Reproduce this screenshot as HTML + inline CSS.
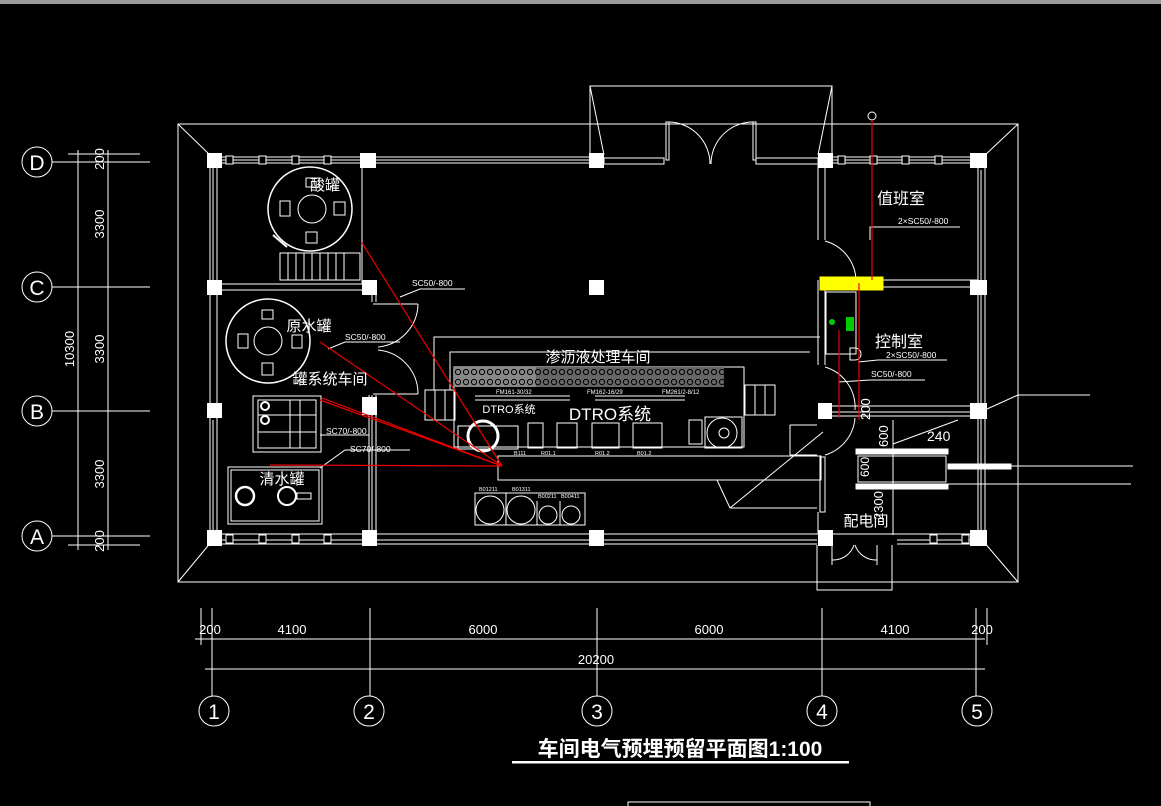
<!DOCTYPE html>
<html><head><meta charset="utf-8"><style>
html,body{margin:0;padding:0;background:#000;}
svg{display:block;}
text{font-family:"Liberation Sans","Noto Sans CJK SC",sans-serif;fill:#fff;}
</style></head><body>
<svg width="1161" height="806" viewBox="0 0 1161 806" xmlns="http://www.w3.org/2000/svg">
<defs>
<pattern id="flt" x="454" y="367" width="8" height="10" patternUnits="userSpaceOnUse">
<circle cx="4" cy="5" r="2.6" fill="none" stroke="#000" stroke-width="1"/>
</pattern>
</defs>
<rect x="0" y="0" width="1161" height="4" fill="#9a9a9a"/>
<g stroke="#fff" fill="none" stroke-width="1">
<rect x="178" y="124" width="840" height="458"/>
<line x1="178" y1="124" x2="212" y2="157"/><line x1="1018" y1="124" x2="983" y2="157"/>
<line x1="178" y1="582" x2="212" y2="541"/><line x1="1018" y1="582" x2="983" y2="541"/>
<polyline points="590,155 590,86 832,86 832,155"/>
<line x1="590" y1="86" x2="604" y2="155"/><line x1="832" y1="86" x2="818" y2="155"/>
<rect x="666" y="122" width="3" height="38"/><rect x="753" y="122" width="3" height="38"/>
<path d="M669,122 A42,42 0 0 1 710,164"/><path d="M753,122 A42,42 0 0 0 711,164"/>
<line x1="217" y1="157" x2="590" y2="157"/><line x1="217" y1="163" x2="590" y2="163"/>
<line x1="217" y1="160" x2="590" y2="160"/>
<rect x="604" y="158" width="60" height="6"/><rect x="756" y="158" width="62" height="6"/>
<line x1="830" y1="157" x2="983" y2="157"/><line x1="830" y1="163" x2="983" y2="163"/><line x1="830" y1="160" x2="983" y2="160"/>
<line x1="217" y1="534" x2="983" y2="534"/><line x1="217" y1="540" x2="817" y2="540"/><line x1="217" y1="544" x2="817" y2="544"/>
<line x1="897" y1="540" x2="983" y2="540"/><line x1="897" y1="544" x2="983" y2="544"/>
<line x1="210" y1="165" x2="210" y2="532"/><line x1="217" y1="165" x2="217" y2="532"/><line x1="213" y1="168" x2="213" y2="280"/><line x1="213" y1="420" x2="213" y2="530"/>
<line x1="978" y1="165" x2="978" y2="532"/><line x1="985" y1="165" x2="985" y2="532"/><line x1="981" y1="170" x2="981" y2="530"/>
<line x1="217" y1="284" x2="368" y2="284"/><line x1="217" y1="290" x2="368" y2="290"/>
<line x1="362" y1="165" x2="362" y2="284"/>
<line x1="372" y1="290" x2="372" y2="302"/><line x1="376" y1="290" x2="376" y2="302"/>
<line x1="372" y1="395" x2="372" y2="532"/><line x1="376" y1="395" x2="376" y2="532"/><line x1="369" y1="395" x2="369" y2="532"/>
<line x1="373" y1="304" x2="418" y2="304"/><path d="M418,304 A44,44 0 0 1 378,347"/><path d="M378,350 A44,44 0 0 1 418,394"/><line x1="373" y1="394" x2="418" y2="394"/>
<rect x="280" y="253" width="80" height="27"/>
<line x1="288" y1="253" x2="288" y2="280"/><line x1="296" y1="253" x2="296" y2="280"/><line x1="304" y1="253" x2="304" y2="280"/><line x1="312" y1="253" x2="312" y2="280"/><line x1="320" y1="253" x2="320" y2="280"/><line x1="328" y1="253" x2="328" y2="280"/><line x1="336" y1="253" x2="336" y2="280"/><line x1="344" y1="253" x2="344" y2="280"/>
<circle cx="310" cy="209" r="42" stroke-width="1.5"/><circle cx="312" cy="209" r="14"/>
<rect x="306" y="178" width="13" height="9"/><rect x="280" y="201" width="10" height="15"/><rect x="334" y="202" width="11" height="13"/><rect x="306" y="232" width="11" height="11"/>
<line x1="273" y1="235" x2="287" y2="247" stroke-width="2"/>
<circle cx="268" cy="341" r="42" stroke-width="1.5"/><circle cx="268" cy="341" r="14"/>
<rect x="262" y="310" width="11" height="9"/><rect x="238" y="334" width="10" height="14"/><rect x="292" y="335" width="10" height="13"/><rect x="262" y="363" width="11" height="12"/>
<rect x="253" y="396" width="68" height="56"/>
<rect x="258" y="400" width="58" height="48"/><line x1="258" y1="415" x2="316" y2="415"/><line x1="258" y1="432" x2="316" y2="432"/><line x1="290" y1="400" x2="290" y2="448"/><line x1="300" y1="400" x2="300" y2="448"/><circle cx="265" cy="406" r="4" stroke-width="2"/><circle cx="265" cy="420" r="4" stroke-width="2"/>
<rect x="228" y="467" width="94" height="57"/><rect x="231" y="470" width="88" height="51"/>
<circle cx="245" cy="496" r="9" stroke-width="2.5"/><circle cx="287" cy="496" r="9" stroke-width="2"/><rect x="297" y="493" width="14" height="6"/>
<polyline points="434,390 434,337 820,337"/>
<polyline points="450,390 450,352 810,352"/>
<rect x="454" y="367" width="290" height="80"/>
<rect x="498" y="456" width="323" height="24"/>
<rect x="425" y="390" width="30" height="30"/><line x1="435" y1="390" x2="435" y2="420"/><line x1="445" y1="390" x2="445" y2="420"/>
<rect x="745" y="385" width="30" height="30"/><line x1="755" y1="385" x2="755" y2="415"/><line x1="765" y1="385" x2="765" y2="415"/>
<rect x="458" y="426" width="60" height="23"/><circle cx="483" cy="436" r="15" stroke-width="3"/>
<rect x="528" y="423" width="15" height="25"/><rect x="557" y="423" width="20" height="25"/>
<rect x="592" y="423" width="27" height="25"/><rect x="633" y="423" width="29" height="25"/>
<rect x="705" y="417" width="37" height="31"/><circle cx="722" cy="433" r="15"/><circle cx="724" cy="433" r="5"/><rect x="689" y="420" width="13" height="24"/>
<line x1="475" y1="396" x2="570" y2="396"/><line x1="475" y1="400" x2="570" y2="400"/>
<line x1="595" y1="396" x2="685" y2="396"/><line x1="595" y1="400" x2="685" y2="400"/>
<rect x="475" y="493" width="110" height="32"/><line x1="506" y1="493" x2="506" y2="525"/><line x1="537" y1="501" x2="537" y2="525"/><line x1="560" y1="501" x2="560" y2="525"/>
<circle cx="490" cy="510" r="14"/><circle cx="521" cy="510" r="14"/><circle cx="548" cy="515" r="9"/><circle cx="571" cy="515" r="9"/>
<line x1="818" y1="165" x2="818" y2="240"/><line x1="825" y1="165" x2="825" y2="240"/>
<path d="M825,241 A42,42 0 0 1 856,280"/>
<line x1="830" y1="280" x2="978" y2="280"/><line x1="830" y1="287" x2="978" y2="287"/>
<line x1="818" y1="280" x2="818" y2="365"/><line x1="825" y1="290" x2="825" y2="365"/>
<rect x="826" y="292" width="30" height="62"/>
<path d="M825,367 A42,42 0 0 1 855,410"/>
<line x1="830" y1="406" x2="978" y2="406"/><line x1="830" y1="412" x2="978" y2="412"/><line x1="830" y1="416" x2="978" y2="416"/>
<rect x="820" y="457" width="5" height="55"/><line x1="818" y1="512" x2="818" y2="534"/>
<path d="M850,348 l5,0 a5,5 0 0 1 0,12 l-5,0 z"/>
<path d="M825,455 A42,42 0 0 0 855,418"/>
<line x1="790" y1="425" x2="817" y2="425"/><line x1="790" y1="425" x2="790" y2="455"/>
<line x1="790" y1="455" x2="817" y2="455"/>
<line x1="717" y1="480" x2="730" y2="508"/><line x1="730" y1="508" x2="817" y2="508"/><line x1="730" y1="508" x2="823" y2="432"/>
<rect x="856" y="449" width="92" height="5" fill="#fff"/><rect x="856" y="484" width="92" height="5" fill="#fff"/>
<rect x="858" y="456" width="88" height="26"/><rect x="948" y="464" width="63" height="5" fill="#fff"/>
<line x1="948" y1="484" x2="1131" y2="484"/><line x1="1011" y1="466" x2="1133" y2="466"/>
<line x1="987" y1="409" x2="1018" y2="395"/><line x1="1018" y1="395" x2="1090" y2="395"/>
<line x1="893" y1="444" x2="958" y2="420"/>
<line x1="893" y1="420" x2="893" y2="535"/>
<polyline points="817,545 817,590 892,590 892,545"/>
<line x1="832" y1="545" x2="832" y2="565"/><line x1="877" y1="545" x2="877" y2="565"/>
<path d="M832,560 A22,22 0 0 0 854,545"/><path d="M877,560 A22,22 0 0 1 855,545"/>
<polyline points="400,297 420,289 465,289"/><polyline points="328,349 345,342 400,342"/>
<polyline points="320,435 325,435 369,435"/><polyline points="320,468 345,450 410,450"/>
<polyline points="870,240 870,227 960,227"/><polyline points="858,362 878,360 947,360"/><polyline points="839,382 870,380 925,380"/>
<circle cx="872" cy="116" r="4"/>
</g>
<!-- window squares -->
<g fill="#000" stroke="#fff">
<rect x="226" y="156" width="7" height="8"/><rect x="259" y="156" width="7" height="8"/><rect x="292" y="156" width="7" height="8"/><rect x="324" y="156" width="7" height="8"/>
<rect x="838" y="156" width="7" height="8"/><rect x="870" y="156" width="7" height="8"/><rect x="902" y="156" width="7" height="8"/><rect x="935" y="156" width="7" height="8"/>
<rect x="226" y="535" width="7" height="8"/><rect x="259" y="535" width="7" height="8"/><rect x="292" y="535" width="7" height="8"/><rect x="324" y="535" width="7" height="8"/>
<rect x="930" y="535" width="7" height="8"/><rect x="962" y="535" width="7" height="8"/>
</g>
<g fill="#fff">
<rect x="207" y="153" width="15" height="15"/><rect x="360" y="153" width="16" height="15"/><rect x="589" y="153" width="15" height="15"/><rect x="818" y="153" width="15" height="15"/><rect x="970" y="153" width="17" height="15"/>
<rect x="207" y="280" width="15" height="15"/><rect x="362" y="280" width="15" height="15"/><rect x="970" y="280" width="17" height="15"/>
<rect x="207" y="403" width="15" height="15"/><rect x="362" y="397" width="15" height="18"/><rect x="818" y="403" width="14" height="16"/><rect x="970" y="403" width="17" height="16"/>
<rect x="207" y="530" width="15" height="16"/><rect x="362" y="530" width="15" height="16"/><rect x="589" y="530" width="15" height="16"/><rect x="818" y="530" width="15" height="16"/><rect x="970" y="530" width="17" height="16"/>
<rect x="589" y="280" width="15" height="15"/>
</g>
<rect x="454" y="367" width="82" height="20" fill="#888"/>
<rect x="536" y="367" width="188" height="20" fill="#666"/>
<rect x="454" y="367" width="270" height="20" fill="url(#flt)"/>
<rect x="820" y="277" width="63" height="13" fill="#ff0" stroke="#ff0"/>
<rect x="846" y="317" width="8" height="14" fill="#0c0"/><circle cx="832" cy="322" r="3" fill="#0c0"/>
<g stroke="#e00" stroke-width="1.2" fill="none">
<line x1="362" y1="243" x2="502" y2="466"/><line x1="320" y1="342" x2="502" y2="466"/>
<line x1="322" y1="398" x2="502" y2="466"/><line x1="320" y1="400" x2="502" y2="466"/>
<line x1="270" y1="465" x2="502" y2="466"/>
<line x1="872" y1="120" x2="872" y2="280"/><line x1="859" y1="283" x2="859" y2="420"/><line x1="839" y1="330" x2="839" y2="418"/>
</g>
<g font-size="22" text-anchor="middle">
<text x="325" y="190" font-size="15">酸罐</text><text x="309" y="331" font-size="15">原水罐</text>
<text x="330" y="384" font-size="15">罐系统车间</text><text x="282" y="484" font-size="15">清水罐</text>
<text x="598" y="362" font-size="15">渗沥液处理车间</text>
<text x="610" y="420" font-size="17">DTRO系统</text><text x="509" y="413" font-size="11">DTRO系统</text>
<text x="901" y="204" font-size="16">值班室</text><text x="899" y="347" font-size="16">控制室</text><text x="866" y="526" font-size="15">配电间</text>
</g>
<g font-size="8.5">
<text x="412" y="286">SC50/-800</text><text x="345" y="340">SC50/-800</text>
<text x="326" y="434">SC70/-800</text><text x="350" y="452">SC70/-800</text>
<text x="898" y="224">2×SC50/-800</text><text x="886" y="358">2×SC50/-800</text><text x="871" y="377">SC50/-800</text>
<text x="496" y="394" font-size="6">FM161-30/32</text><text x="587" y="394" font-size="6">FM162-16/29</text><text x="662" y="394" font-size="6">FM261/2-8/12</text>
<text x="514" y="455" font-size="5.5">B111</text><text x="541" y="455" font-size="5.5">R01.1</text><text x="595" y="455" font-size="5.5">R01.2</text><text x="637" y="455" font-size="5.5">B01.2</text>
<text x="479" y="491" font-size="5.5">B01211</text><text x="512" y="491" font-size="5.5">B01311</text><text x="538" y="498" font-size="5.5">B00211</text><text x="561" y="498" font-size="5.5">B00411</text>
<text x="927" y="441" font-size="14">240</text>
</g>
<text transform="translate(870,420) rotate(-90)" font-size="13">200</text>
<text transform="translate(888,447) rotate(-90)" font-size="13">600</text>
<text transform="translate(869,477) rotate(-90)" font-size="12">600</text>
<text transform="translate(883,520) rotate(-90)" font-size="13">2300</text>
<g stroke="#fff" fill="none">
<line x1="78" y1="150" x2="78" y2="550"/><line x1="108" y1="150" x2="108" y2="550"/>
<line x1="68" y1="154" x2="140" y2="154"/><line x1="68" y1="545" x2="140" y2="545"/>
<line x1="52" y1="162" x2="150" y2="162"/><line x1="52" y1="287" x2="150" y2="287"/><line x1="52" y1="411" x2="150" y2="411"/><line x1="52" y1="536" x2="150" y2="536"/>
<circle cx="37" cy="162" r="15"/><circle cx="37" cy="287" r="15"/><circle cx="37" cy="411" r="15"/><circle cx="37" cy="536" r="15"/>
<line x1="195" y1="639" x2="985" y2="639"/><line x1="205" y1="669" x2="985" y2="669"/>
<line x1="201" y1="608" x2="201" y2="645"/><line x1="212" y1="608" x2="212" y2="696"/><line x1="370" y1="608" x2="370" y2="696"/><line x1="597" y1="608" x2="597" y2="696"/><line x1="822" y1="608" x2="822" y2="696"/><line x1="976" y1="608" x2="976" y2="696"/><line x1="987" y1="608" x2="987" y2="645"/>
<circle cx="214" cy="711" r="15"/><circle cx="369" cy="711" r="15"/><circle cx="597" cy="711" r="15"/><circle cx="822" cy="711" r="15"/><circle cx="977" cy="711" r="15"/>
<rect x="628" y="802" width="242" height="10"/>
</g>
<g font-family="Liberation Serif" font-size="21" text-anchor="middle">
<text x="37" y="170">D</text><text x="37" y="295">C</text><text x="37" y="419">B</text><text x="37" y="544">A</text>
<text x="214" y="719">1</text><text x="369" y="719">2</text><text x="597" y="719">3</text><text x="822" y="719">4</text><text x="977" y="719">5</text>
</g>
<g font-size="13" text-anchor="middle">
<text transform="translate(104,159) rotate(-90)">200</text>
<text transform="translate(104,224) rotate(-90)">3300</text>
<text transform="translate(104,349) rotate(-90)">3300</text>
<text transform="translate(104,474) rotate(-90)">3300</text>
<text transform="translate(104,541) rotate(-90)">200</text>
<text transform="translate(74,349) rotate(-90)">10300</text>
<text x="210" y="634">200</text><text x="292" y="634">4100</text><text x="483" y="634">6000</text><text x="709" y="634">6000</text><text x="895" y="634">4100</text><text x="982" y="634">200</text>
<text x="596" y="664">20200</text>
</g>
<text x="680" y="756" font-size="21" font-weight="bold" text-anchor="middle">车间电气预埋预留平面图1:100</text>
<rect x="512" y="761" width="337" height="2.5" fill="#fff"/>
</svg>
</body></html>
